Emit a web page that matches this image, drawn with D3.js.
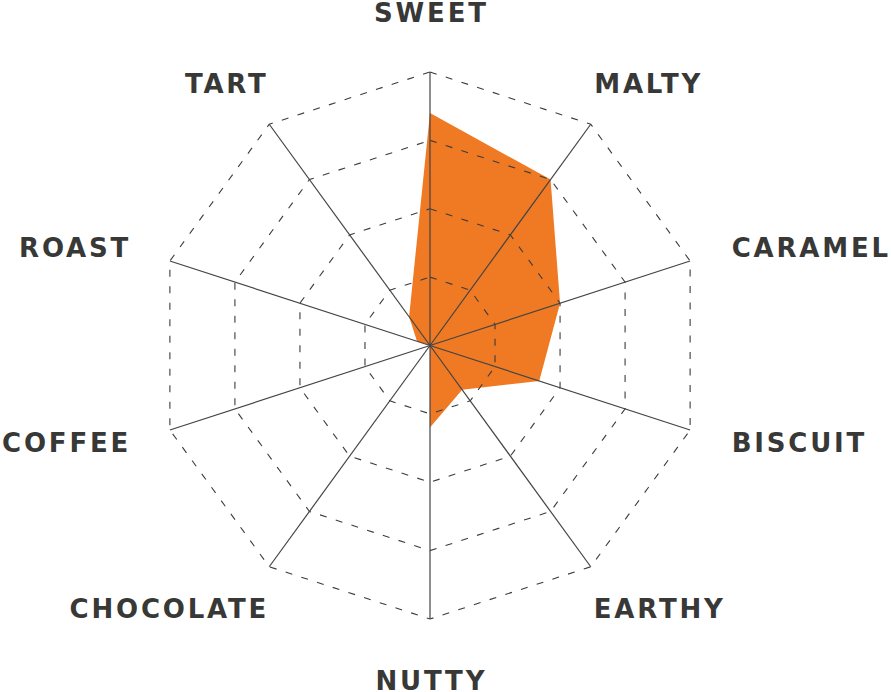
<!DOCTYPE html>
<html>
<head>
<meta charset="utf-8">
<script src="https://cdn.jsdelivr.net/npm/d3@7"></script>
<style>
  html, body { margin: 0; padding: 0; background: #ffffff; }
  svg { display: block; }
</style>
</head>
<body>
<svg id="chart" width="891" height="692"></svg>
<script>
// ---- data ----
const categories = ["SWEET", "MALTY", "CARAMEL", "BISCUIT", "EARTHY", "NUTTY", "CHOCOLATE", "COFFEE", "ROAST", "TART"];
const values = [85, 75, 50, 42, 20, 30, 0, 0, 5, 13];
const ringTicks = [25, 50, 75, 100];
const maxValue = 100;

// ---- layout ----
const width = 891, height = 692;
const cx = 430, cy = 345.5, radius = 273.5;
const letterSpacing = 2.8;

const svg = d3.select("#chart");
const g = svg.append("g").attr("transform", `translate(${cx},${cy})`);

const r = d3.scaleLinear().domain([0, maxValue]).range([0, radius]);
const angle = d3.scaleLinear().domain([0, categories.length]).range([0, 2 * Math.PI]);

const pt = (i, v) => {
  const a = angle(i);
  return [Math.sin(a) * r(v), -Math.cos(a) * r(v)];
};

// filled area
const area = d3.lineRadial()
  .angle((d, i) => angle(i))
  .radius(d => r(d))
  .curve(d3.curveLinearClosed);

g.append("path")
  .datum(values)
  .attr("d", area)
  .attr("fill", "#f07a24")
  .attr("stroke", "none");

// dashed rings
g.selectAll("path.ring")
  .data(ringTicks)
  .join("path")
  .attr("class", "ring")
  .attr("d", t => area(categories.map(() => t)))
  .attr("fill", "none")
  .attr("stroke", "#3c3c3c")
  .attr("stroke-width", 1.1)
  .attr("stroke-dasharray", "7,9.5");

// spokes
g.selectAll("line.spoke")
  .data(categories)
  .join("line")
  .attr("class", "spoke")
  .attr("x1", 0).attr("y1", 0)
  .attr("x2", (d, i) => pt(i, maxValue)[0])
  .attr("y2", (d, i) => pt(i, maxValue)[1])
  .attr("stroke", "#444444")
  .attr("stroke-width", 1.2);

// labels
function labelLayout(i) {
  const n = categories.length;
  const k = Math.min(i, n - i);            // steps away from top
  const side = i === 0 || i === n / 2 ? 0 : (i < n / 2 ? 1 : -1);
  const [ex, ey] = pt(i, maxValue);
  const dxBy = [0, 3.5, 41.6, 41.6, 3, 0];
  const dyBy = [-50.3, -31, -4.3, 22.3, 51.5, 70.5];
  let anchor = side === 0 ? "middle" : (side > 0 ? "start" : "end");
  let x = ex + side * dxBy[k];
  if (anchor === "end") x += letterSpacing;
  if (anchor === "middle") x += letterSpacing / 2;
  return { x, y: ey + dyBy[k], anchor };
}

g.selectAll("text.label")
  .data(categories)
  .join("text")
  .attr("class", "label")
  .each(function (d, i) {
    const L = labelLayout(i);
    d3.select(this)
      .attr("x", L.x)
      .attr("y", L.y)
      .attr("text-anchor", L.anchor);
  })
  .attr("font-family", "'DejaVu Sans', sans-serif")
  .attr("font-weight", 700)
  .attr("font-size", 26)
  .attr("letter-spacing", letterSpacing)
  .attr("fill", "#383836")
  .text(d => d);
</script>
</body>
</html>
